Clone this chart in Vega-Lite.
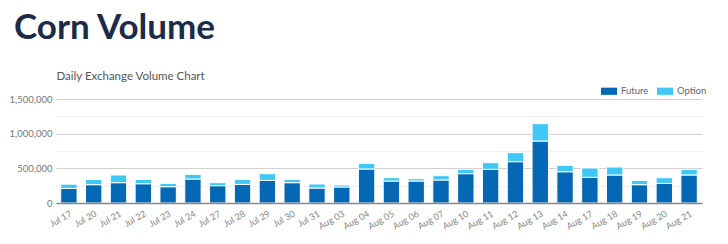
{
  "$schema": "https://vega.github.io/schema/vega-lite/v6.json",
  "width": 646,
  "height": 104,
  "autosize": {"type": "none"},
  "padding": {"left": 56, "top": 99, "right": 26, "bottom": 41},
  "background": "white",
  "title": {
    "text": "Corn Volume",
    "anchor": "start",
    "frame": "group",
    "dx": -42,
    "offset": 24,
    "font": "Lato",
    "fontSize": 35,
    "fontWeight": 700,
    "color": "#1b2b48"
  },
  "data": {
    "values": [
      {"date": "Jul 17", "type": "Future", "volume": 210000},
      {"date": "Jul 17", "type": "Option", "volume": 62000},
      {"date": "Jul 20", "type": "Future", "volume": 264000},
      {"date": "Jul 20", "type": "Option", "volume": 76000},
      {"date": "Jul 21", "type": "Future", "volume": 293000},
      {"date": "Jul 21", "type": "Option", "volume": 111000},
      {"date": "Jul 22", "type": "Future", "volume": 278000},
      {"date": "Jul 22", "type": "Option", "volume": 62000},
      {"date": "Jul 23", "type": "Future", "volume": 235000},
      {"date": "Jul 23", "type": "Option", "volume": 48000},
      {"date": "Jul 24", "type": "Future", "volume": 346000},
      {"date": "Jul 24", "type": "Option", "volume": 67000},
      {"date": "Jul 27", "type": "Future", "volume": 250000},
      {"date": "Jul 27", "type": "Option", "volume": 43000},
      {"date": "Jul 28", "type": "Future", "volume": 268000},
      {"date": "Jul 28", "type": "Option", "volume": 72000},
      {"date": "Jul 29", "type": "Future", "volume": 326000},
      {"date": "Jul 29", "type": "Option", "volume": 97000},
      {"date": "Jul 30", "type": "Future", "volume": 293000},
      {"date": "Jul 30", "type": "Option", "volume": 47000},
      {"date": "Jul 31", "type": "Future", "volume": 216000},
      {"date": "Jul 31", "type": "Option", "volume": 58000},
      {"date": "Aug 03", "type": "Future", "volume": 231000},
      {"date": "Aug 03", "type": "Option", "volume": 29000},
      {"date": "Aug 04", "type": "Future", "volume": 490000},
      {"date": "Aug 04", "type": "Option", "volume": 81000},
      {"date": "Aug 05", "type": "Future", "volume": 317000},
      {"date": "Aug 05", "type": "Option", "volume": 48000},
      {"date": "Aug 06", "type": "Future", "volume": 317000},
      {"date": "Aug 06", "type": "Option", "volume": 33000},
      {"date": "Aug 07", "type": "Future", "volume": 332000},
      {"date": "Aug 07", "type": "Option", "volume": 62000},
      {"date": "Aug 10", "type": "Future", "volume": 423000},
      {"date": "Aug 10", "type": "Option", "volume": 62000},
      {"date": "Aug 11", "type": "Future", "volume": 485000},
      {"date": "Aug 11", "type": "Option", "volume": 96000},
      {"date": "Aug 12", "type": "Future", "volume": 596000},
      {"date": "Aug 12", "type": "Option", "volume": 130000},
      {"date": "Aug 13", "type": "Future", "volume": 894000},
      {"date": "Aug 13", "type": "Option", "volume": 250000},
      {"date": "Aug 14", "type": "Future", "volume": 451000},
      {"date": "Aug 14", "type": "Option", "volume": 92000},
      {"date": "Aug 17", "type": "Future", "volume": 370000},
      {"date": "Aug 17", "type": "Option", "volume": 135000},
      {"date": "Aug 18", "type": "Future", "volume": 404000},
      {"date": "Aug 18", "type": "Option", "volume": 115000},
      {"date": "Aug 19", "type": "Future", "volume": 264000},
      {"date": "Aug 19", "type": "Option", "volume": 62000},
      {"date": "Aug 20", "type": "Future", "volume": 283000},
      {"date": "Aug 20", "type": "Option", "volume": 82000},
      {"date": "Aug 21", "type": "Future", "volume": 404000},
      {"date": "Aug 21", "type": "Option", "volume": 81000}
    ]
  },
  "mark": {"type": "bar", "stroke": "white", "strokeWidth": 1},
  "encoding": {
    "x": {
      "field": "date",
      "type": "ordinal",
      "sort": null,
      "scale": {"paddingInner": 0.34, "paddingOuter": 0.19},
      "axis": {
        "title": null,
        "labelAngle": -30,
        "labelAlign": "right",
        "labelBaseline": "top",
        "labelPadding": 6,
        "labelFont": "Lato",
        "labelFontSize": 9,
        "labelColor": "#888",
        "ticks": false,
        "domainColor": "#888",
        "domainWidth": 1.5,
        "zindex": 1
      }
    },
    "y": {
      "field": "volume",
      "type": "quantitative",
      "stack": "zero",
      "scale": {"domain": [0, 1500000], "nice": false},
      "axis": {
        "title": "Daily Exchange Volume Chart",
        "titleAngle": 0,
        "titleAlign": "left",
        "titleBaseline": "alphabetic",
        "titleX": 0,
        "titleY": -20,
        "titleFont": "Lato",
        "titleFontSize": 11.5,
        "titleFontWeight": 400,
        "titleColor": "#555",
        "values": [0, 250000, 500000, 750000, 1000000, 1250000, 1500000],
        "labelExpr": "datum.value % 500000 === 0 ? format(datum.value, ',') : ''",
        "labelFont": "Lato",
        "labelFontSize": 9.5,
        "labelColor": "#777",
        "labelPadding": 4,
        "ticks": false,
        "domain": false,
        "gridColor": {"condition": {"test": "datum.value % 500000 === 0", "value": "#d0d0d0"}, "value": "#efefef"},
        "gridWidth": 1
      }
    },
    "color": {
      "field": "type",
      "type": "nominal",
      "scale": {"domain": ["Future", "Option"], "range": ["#0468b4", "#3fc7f6"]},
      "legend": {
        "title": null,
        "orient": "none",
        "direction": "horizontal",
        "legendX": 545,
        "legendY": -16,
        "symbolType": "M-1,-0.45H1V0.45H-1Z",
        "symbolSize": 256,
        "symbolStrokeWidth": 0,
        "labelFont": "Lato",
        "labelFontSize": 9.5,
        "labelColor": "#666",
        "labelOffset": 4,
        "columnPadding": 8
      }
    },
    "order": {"field": "type", "sort": "ascending"}
  },
  "config": {"view": {"stroke": null}}
}
